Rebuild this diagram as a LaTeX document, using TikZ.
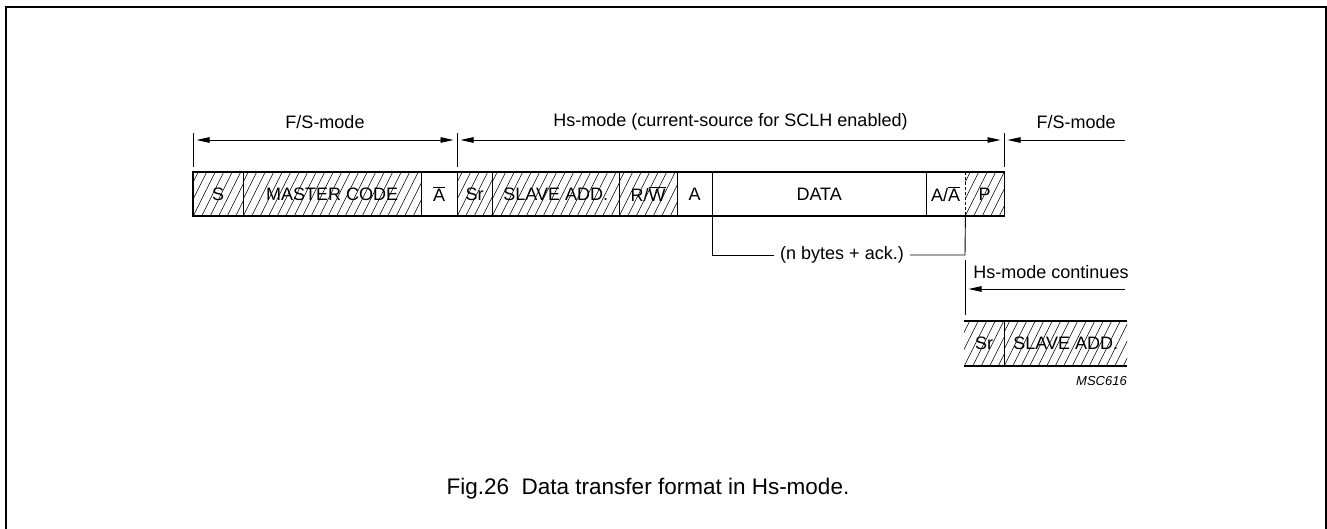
\documentclass[tikz,border=0pt]{standalone}
\usepackage{fontspec}
\setmainfont{Liberation Sans}
\usetikzlibrary{arrows.meta}
\begin{document}
\begin{tikzpicture}[x=1pt,y=-1pt,
  cell/.style={inner sep=0pt, minimum height=44pt, anchor=west, font=\fontsize{18}{20}\selectfont},
  hatched/.style={path picture={
      \foreach \k in {-4,...,23}
        \draw[line width=0.55pt] ([xshift=\k*8.5pt]path picture bounding box.south west) -- ++(23,-46);
    }},
  boxline/.style={line width=1.8pt},
  thin/.style={line width=0.9pt},
  dimarrow/.style={line width=0.9pt, {Triangle[length=13pt,width=5.5pt]}-{Triangle[length=13pt,width=5.5pt]}},
  larrow/.style={line width=0.9pt, {Triangle[length=13pt,width=5.5pt]}-},
  lbl/.style={inner sep=0pt, font=\fontsize{18}{20}\selectfont}
]
\useasboundingbox (0,0) rectangle (1327,528);
\draw[line width=2pt] (6,530) -- (6,7) -- (1326,7) -- (1326,530);

% main row
\node[cell, hatched, minimum width=50pt]  (S)    at (193,194) {S};
\node[cell, hatched, minimum width=178pt] (MC)   at (243,194) {MASTER CODE};
\node[cell, minimum width=36pt]           (NA)   at (421,194) {$\overline{\mbox{A}}$};
\node[cell, hatched, minimum width=35pt]  (Sr)   at (457,194) {Sr};
\node[cell, hatched, minimum width=127pt] (SA)   at (492,194) {SLAVE ADD.};
\node[cell, hatched, minimum width=58pt]  (RW)   at (619,194) {R/$\overline{\mbox{W}}$};
\node[cell, minimum width=35pt]           (A)    at (677,194) {A};
\node[cell, minimum width=214pt]          (DATA) at (712,194) {DATA};
\node[cell, minimum width=39pt]           (AA)   at (926,194) {A/$\overline{\mbox{A}}$};
\node[cell, hatched, minimum width=39pt]  (P)    at (965,194) {P};

\draw[boxline] (S.north west) rectangle (P.south east);
\foreach \n in {S,MC,NA,Sr,SA,RW,A,DATA} \draw[boxline] (\n.north east) -- (\n.south east);
\draw[thin, dash pattern=on 3pt off 2pt] (AA.north east) -- (AA.south east);

% dimension ticks
\coordinate (t1a) at (193,133); \coordinate (t1b) at (193,167);
\coordinate (t2a) at (457,133); \coordinate (t2b) at (457,167);
\coordinate (t3a) at (1004,133); \coordinate (t3b) at (1004,167);
\draw[thin] (t1a) -- (t1b);
\draw[thin] (t2a) -- (t2b);
\draw[thin] (t3a) -- (t3b);
\coordinate (d1) at (193,140); \coordinate (d2) at (457,140); \coordinate (d3) at (1004,140);
\coordinate (d4) at (1125,140);
\draw[dimarrow, shorten <=3.5pt, shorten >=3.5pt] (d1) -- (d2);
\draw[dimarrow, shorten <=3.5pt, shorten >=3.5pt] (d2) -- (d3);
\draw[larrow, shorten <=3.5pt] (d3) -- (d4);
\node[lbl] (l1) at (325,122) {F/S-mode};
\node[lbl] (l2) at (730.5,122) {Hs-mode (current-source for SCLH enabled)};
\node[lbl] (l3) at (1076,122) {F/S-mode};

% n bytes bracket
\node[lbl, inner xsep=6pt] (nb) at (842,255) {(n bytes + ack.)};
\draw[thin] (DATA.south west) -- (712,255) -- (nb.west);
\draw[thin] (nb.east) -- (965,255) -- (AA.south east);

% Hs-mode continues
\coordinate (c1) at (965,260); \coordinate (c2) at (965,315);
\draw[thin] (c1) -- (c2);
\coordinate (h1) at (965,289); \coordinate (h2) at (1125,289);
\draw[larrow, shorten <=3.5pt] (h1) -- (h2);
\node[lbl] (hc) at (1051,272) {Hs-mode continues};

% second row
\node[cell, hatched, minimum width=40pt, minimum height=45pt]  (Sr2) at (964,343.5) {Sr};
\node[cell, hatched, minimum width=123pt, minimum height=45pt] (SA2) at (1004,343.5) {SLAVE ADD.};
\draw[boxline] (Sr2.north west) -- (SA2.north east);
\draw[boxline] (Sr2.south west) -- (SA2.south east);
\draw[boxline] (Sr2.north east) -- (Sr2.south east);

\node[inner sep=0pt, anchor=east, font=\fontsize{13}{15}\selectfont\itshape] (msc) at (1127,381) {MSC616};

\node[inner sep=0pt, font=\fontsize{22.5}{26}\selectfont] (cap) at (648,489) {Fig.26\ \ Data transfer format in Hs-mode.};
\end{tikzpicture}
\end{document}
